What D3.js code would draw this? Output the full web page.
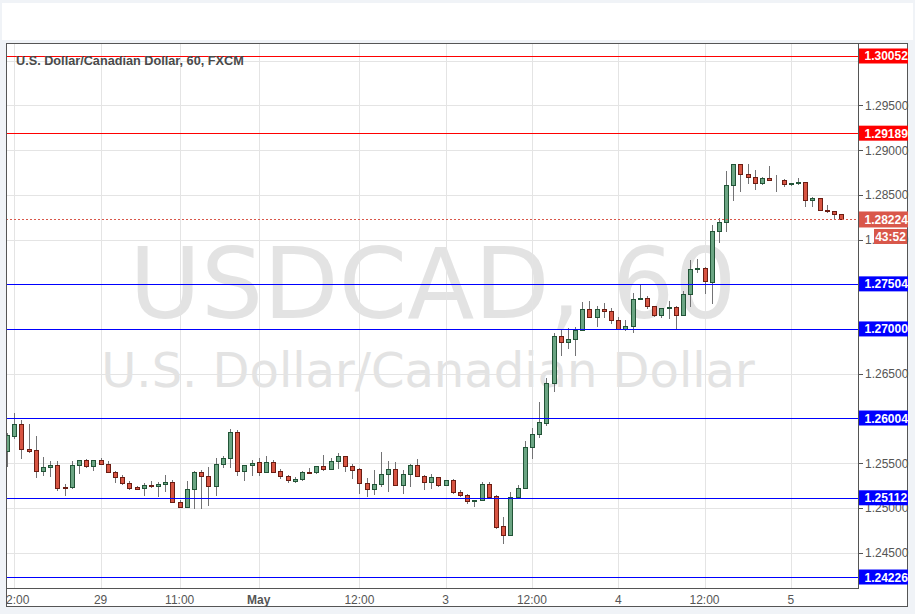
<!DOCTYPE html>
<html><head><meta charset="utf-8">
<script src="https://cdn.jsdelivr.net/npm/d3@7"></script>
<style>html,body{margin:0;padding:0;background:#f0f3f7;}svg{display:block;}</style>
</head><body><svg id="c" width="915" height="614"></svg>
<script>
const opens = [1.25639,1.25807,1.25938,1.25654,1.25643,1.25408,1.25453,1.25475,1.25229,1.25229,1.25475,1.25531,1.25464,1.25531,1.25486,1.25397,1.25341,1.25274,1.25229,1.25218,1.25251,1.25248,1.25263,1.25289,1.25061,1.25013,1.25207,1.25404,1.25352,1.25240,1.25486,1.25554,1.25848,1.25416,1.25475,1.25509,1.25404,1.25513,1.25412,1.25352,1.25304,1.25319,1.25397,1.25397,1.25464,1.25438,1.25520,1.25576,1.25464,1.25430,1.25274,1.25214,1.25263,1.25378,1.25430,1.25251,1.25378,1.25475,1.25352,1.25285,1.25341,1.25251,1.25307,1.25173,1.25140,1.25072,1.25084,1.25263,1.25128,1.24793,1.24699,1.25125,1.25218,1.25677,1.25822,1.25953,1.26393,1.26919,1.26852,1.26885,1.26986,1.27221,1.27131,1.27221,1.27199,1.27098,1.26997,1.27031,1.27333,1.27344,1.27254,1.27154,1.27232,1.27243,1.27161,1.27389,1.27665,1.27680,1.27530,1.28097,1.28194,1.28608,1.28843,1.28732,1.28698,1.28631,1.28687,1.28662,1.28664,1.28620,1.28631,1.28642,1.28441,1.28463,1.28333,1.28321,1.28284];
const highs = [1.25833,1.26057,1.25983,1.25938,1.25803,1.25565,1.25524,1.25524,1.25266,1.25524,1.25531,1.25542,1.25531,1.25554,1.25520,1.25416,1.25367,1.25304,1.25244,1.25274,1.25300,1.25289,1.25367,1.25311,1.25087,1.25300,1.25416,1.25423,1.25460,1.25554,1.25580,1.25878,1.25871,1.25475,1.25535,1.25557,1.25580,1.25535,1.25434,1.25367,1.25348,1.25412,1.25442,1.25468,1.25591,1.25554,1.25610,1.25576,1.25486,1.25442,1.25330,1.25423,1.25624,1.25524,1.25509,1.25423,1.25490,1.25546,1.25367,1.25378,1.25341,1.25307,1.25322,1.25199,1.25155,1.25087,1.25289,1.25289,1.25140,1.24893,1.25173,1.25255,1.25748,1.25889,1.26180,1.26449,1.26952,1.26997,1.27008,1.27020,1.27303,1.27310,1.27251,1.27288,1.27232,1.27131,1.27102,1.27407,1.27493,1.27370,1.27262,1.27232,1.27314,1.27258,1.27419,1.27773,1.27784,1.27698,1.28165,1.28239,1.28761,1.28843,1.28843,1.28847,1.28773,1.28698,1.28825,1.28724,1.28676,1.28635,1.28687,1.28646,1.28474,1.28463,1.28388,1.28321,1.28284];
const lows = [1.25472,1.25777,1.25561,1.25628,1.25348,1.25367,1.25356,1.25199,1.25143,1.25225,1.25393,1.25460,1.25423,1.25486,1.25397,1.25292,1.25266,1.25207,1.25207,1.25147,1.25229,1.25132,1.25192,1.25061,1.25005,1.25005,1.24994,1.24994,1.25031,1.25143,1.25460,1.25460,1.25367,1.25311,1.25367,1.25367,1.25404,1.25404,1.25330,1.25292,1.25292,1.25311,1.25386,1.25393,1.25423,1.25438,1.25449,1.25412,1.25337,1.25169,1.25132,1.25151,1.25244,1.25192,1.25251,1.25169,1.25248,1.25352,1.25214,1.25225,1.25248,1.25251,1.25162,1.25136,1.25057,1.25020,1.25084,1.25125,1.24770,1.24610,1.24699,1.25117,1.25218,1.25554,1.25796,1.25927,1.26311,1.26710,1.26785,1.26710,1.26986,1.27131,1.27038,1.27139,1.27061,1.26997,1.26990,1.26971,1.27333,1.27232,1.27146,1.27128,1.27117,1.26997,1.27161,1.27251,1.27642,1.27400,1.27288,1.27967,1.28090,1.28437,1.28538,1.28631,1.28564,1.28620,1.28664,1.28538,1.28594,1.28608,1.28623,1.28370,1.28370,1.28329,1.28303,1.28228,1.28224];
const closes = [1.25815,1.25938,1.25654,1.25639,1.25408,1.25453,1.25479,1.25225,1.25225,1.25475,1.25531,1.25464,1.25531,1.25486,1.25397,1.25341,1.25274,1.25225,1.25214,1.25251,1.25248,1.25266,1.25289,1.25061,1.25013,1.25207,1.25404,1.25352,1.25240,1.25490,1.25554,1.25848,1.25416,1.25475,1.25501,1.25404,1.25513,1.25404,1.25352,1.25307,1.25322,1.25401,1.25393,1.25464,1.25438,1.25520,1.25576,1.25464,1.25427,1.25274,1.25214,1.25263,1.25378,1.25430,1.25251,1.25378,1.25475,1.25352,1.25285,1.25341,1.25251,1.25307,1.25173,1.25140,1.25072,1.25087,1.25263,1.25125,1.24789,1.24699,1.25125,1.25218,1.25677,1.25822,1.25957,1.26393,1.26919,1.26852,1.26885,1.26990,1.27221,1.27131,1.27221,1.27199,1.27098,1.26997,1.27031,1.27333,1.27344,1.27254,1.27154,1.27232,1.27243,1.27161,1.27389,1.27669,1.27676,1.27534,1.28097,1.28198,1.28608,1.28843,1.28732,1.28698,1.28631,1.28687,1.28664,1.28666,1.28620,1.28635,1.28646,1.28441,1.28463,1.28329,1.28314,1.28284,1.28224];

const timeTickIndex = [1,13,24,35,49,61,73,85,97,109];
const timeTickLabels = ["12:00","29","11:00","May","12:00","3","12:00","4","12:00","5"];
const priceTicks = [1.245,1.250,1.255,1.260,1.265,1.270,1.275,1.280,1.285,1.290,1.295,1.300];
const levelValues = [1.30052,1.29189,1.27504,1.27000,1.26004,1.25112,1.24226];
const lastPrice = 1.28224;
const countdown = "43:52";
const titleText = "U.S. Dollar/Canadian Dollar, 60, FXCM";
const watermark1 = "USDCAD, 60";
const watermark2 = "U.S. Dollar/Canadian Dollar";

const svg = d3.select("#c");
const L = 6, T = 43, PR = 858, PB = 588, R = 908, B = 607;

const x = d3.scaleLinear().domain([1,109]).range([14.3,790.8]);
const y = d3.scaleLinear().domain([1.25,1.30]).range([507.8,60.65]);

svg.append("rect").attr("x",2).attr("y",3).attr("width",911).attr("height",37).attr("fill","#fff");
svg.append("rect").attr("x",L).attr("y",T).attr("width",R-L).attr("height",B-T).attr("fill","#fff");

const defs = svg.append("defs");
defs.append("clipPath").attr("id","plot").append("rect").attr("x",L).attr("y",T).attr("width",PR-L).attr("height",PB-T);
defs.append("clipPath").attr("id","xlab").append("rect").attr("x",L+1).attr("y",PB).attr("width",PR-L).attr("height",B-PB);

const plot = svg.append("g").attr("clip-path","url(#plot)");

plot.append("text").attr("x",433).attr("y",318).attr("text-anchor","middle")
  .attr("font-family","DejaVu Sans").attr("font-size",98).attr("fill","#e3e3e3").text(watermark1);
plot.append("text").attr("x",428).attr("y",387).attr("text-anchor","middle")
  .attr("font-family","DejaVu Sans").attr("font-size",48).attr("fill","#e3e3e3").text(watermark2);

plot.selectAll("line.hg").data(priceTicks).join("line").attr("class","hg")
  .attr("x1",L).attr("x2",PR).attr("y1",d=>Math.round(y(d))+0.5).attr("y2",d=>Math.round(y(d))+0.5)
  .attr("stroke","#e4e4e4").attr("stroke-width",1);
plot.selectAll("line.vg").data(timeTickIndex).join("line").attr("class","vg")
  .attr("y1",T).attr("y2",PB).attr("x1",d=>Math.round(x(d))+0.5).attr("x2",d=>Math.round(x(d))+0.5)
  .attr("stroke","#e4e4e4").attr("stroke-width",1);

const data = opens.map((o,i)=>({i,o,h:highs[i],l:lows[i],c:closes[i]}));
const cg = plot.append("g");
data.forEach(d=>{
  const cx = Math.round(x(d.i));
  cg.append("line").attr("x1",cx+0.5).attr("x2",cx+0.5)
    .attr("y1",Math.round(y(d.h))).attr("y2",Math.round(y(d.l))+1)
    .attr("stroke","#737375").attr("stroke-width",1);
  const up = d.c >= d.o;
  const top = Math.round(y(Math.max(d.o,d.c))), bot = Math.round(y(Math.min(d.o,d.c)));
  cg.append("rect").attr("x",cx-1.5).attr("y",top+0.5).attr("width",4).attr("height",Math.max(0,bot-top))
    .attr("fill",up?"#6ba583":"#d75442").attr("stroke",up?"#225437":"#6b1d13").attr("stroke-width",1);
});

const levelColor = v => v > lastPrice ? "#ff0000" : "#0000ff";
plot.selectAll("line.lv").data(levelValues).join("line").attr("class","lv")
  .attr("x1",L).attr("x2",PR).attr("y1",d=>Math.round(y(d))+0.5).attr("y2",d=>Math.round(y(d))+0.5)
  .attr("stroke",levelColor).attr("stroke-width",1.2);

plot.append("line").attr("x1",L).attr("x2",PR)
  .attr("y1",Math.round(y(lastPrice))+0.5).attr("y2",Math.round(y(lastPrice))+0.5)
  .attr("stroke","#d9574a").attr("stroke-width",1).attr("stroke-dasharray","2,2");

svg.append("text").attr("x",16).attr("y",65).attr("font-family","Liberation Sans").attr("font-weight","bold")
  .attr("font-size",12.7).attr("fill","#4a4a4a").text(titleText);

const fr = svg.append("g").attr("stroke","#555").attr("stroke-width",1).attr("shape-rendering","crispEdges");
fr.append("rect").attr("x",L+0.5).attr("y",T+0.5).attr("width",R-L-1).attr("height",B-T-1).attr("fill","none");
fr.append("line").attr("x1",PR+0.5).attr("x2",PR+0.5).attr("y1",T).attr("y2",PB+1);
fr.append("line").attr("x1",L).attr("x2",PR+1).attr("y1",PB+0.5).attr("y2",PB+0.5);

// right axis (labels hidden under level boxes are not drawn)
const visibleTicks = priceTicks.filter(d=>y(d)>T+5 && y(d)<PB-5 && !levelValues.some(v=>Math.abs(y(v)-y(d))<6));
const ax = svg.append("g");
ax.selectAll("line.tk").data(priceTicks.filter(d=>y(d)>T+5 && y(d)<PB-5)).join("line").attr("class","tk")
  .attr("x1",PR+1).attr("x2",PR+5).attr("y1",d=>Math.round(y(d))+0.5).attr("y2",d=>Math.round(y(d))+0.5)
  .attr("stroke","#555");
ax.selectAll("text.tl").data(visibleTicks).join("text").attr("class","tl")
  .attr("x",865).attr("y",d=>y(d)+4.5).attr("font-family","Liberation Sans").attr("font-size",12)
  .attr("fill","#555").text(d=>d.toFixed(5));

const bx = svg.append("g").attr("clip-path","url(#xlab)");
bx.selectAll("text").data(timeTickIndex).join("text")
  .attr("x",d=>x(d)).attr("y",604).attr("text-anchor","middle").attr("font-family","Liberation Sans")
  .attr("font-size",12).attr("fill","#555")
  .attr("font-weight",(d,i)=>timeTickLabels[i]==="May"?"bold":"normal")
  .text((d,i)=>timeTickLabels[i]);

const boxes = svg.append("g");
levelValues.forEach(v=>{
  const yc = y(v);
  boxes.append("rect").attr("x",PR+1).attr("y",yc-7.5).attr("width",R-PR-1).attr("height",15).attr("fill",levelColor(v));
  boxes.append("text").attr("x",864.5).attr("y",yc+4.5).attr("font-family","Liberation Sans").attr("font-weight","bold")
    .attr("font-size",12).attr("fill","#fff").text(v.toFixed(5));
});
const yl = y(lastPrice);
boxes.append("rect").attr("x",PR+1).attr("y",yl-8).attr("width",R-PR-1).attr("height",16).attr("fill","#d9574a");
boxes.append("text").attr("x",864.5).attr("y",yl+4.5).attr("font-family","Liberation Sans").attr("font-weight","bold")
  .attr("font-size",12).attr("fill","#fff").text(lastPrice.toFixed(5));
boxes.append("rect").attr("x",874).attr("y",yl+9.5).attr("width",33).attr("height",15).attr("fill","#d9574a");
boxes.append("text").attr("x",890.5).attr("y",yl+21.5).attr("text-anchor","middle").attr("font-family","Liberation Sans")
  .attr("font-weight","bold").attr("font-size",12).attr("fill","#fff").text(countdown);
</script></body></html>
